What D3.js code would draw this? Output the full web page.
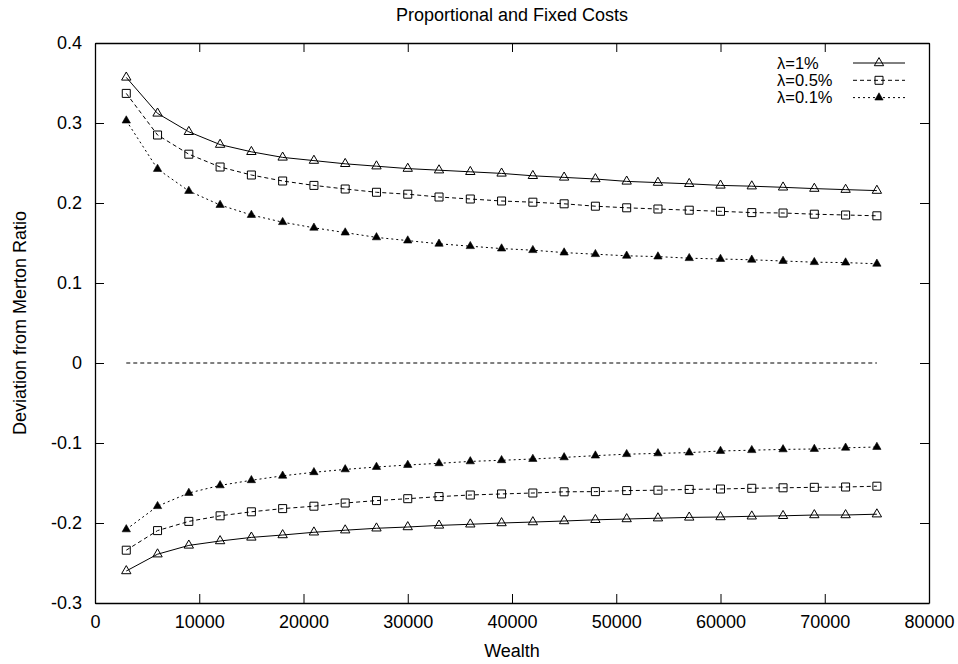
<!DOCTYPE html>
<html>
<head>
<meta charset="utf-8">
<script src="https://cdn.jsdelivr.net/npm/d3@7"></script>
<style>
  body { margin: 0; background: #fff; }
  svg text { font-family: "Liberation Sans", Arial, sans-serif; fill: #000; }
</style>
</head>
<body>
<div id="chart"></div>
<script>
// wealth grid, 3000 .. 75000
var wealth = [3000, 6000, 9000, 12000, 15000, 18000, 21000, 24000, 27000, 30000,
    33000, 36000, 39000, 42000, 45000, 48000, 51000, 54000, 57000, 60000,
    63000, 66000, 69000, 72000, 75000];

// upper boundaries
var upper1 = [0.357, 0.312, 0.289, 0.273, 0.264, 0.257, 0.253, 0.249, 0.246, 0.243,
    0.241, 0.239, 0.237, 0.234, 0.232, 0.230, 0.227, 0.2255, 0.224, 0.222,
    0.221, 0.2196, 0.218, 0.2167, 0.2155];
var upper05 = [0.337, 0.285, 0.261, 0.245, 0.235, 0.2275, 0.222, 0.2175, 0.2134, 0.211,
    0.2075, 0.205, 0.2025, 0.201, 0.199, 0.196, 0.194, 0.1925, 0.191, 0.1896,
    0.188, 0.1875, 0.186, 0.185, 0.184];
var upper01 = [0.303, 0.2425, 0.215, 0.1975, 0.185, 0.176, 0.169, 0.163, 0.157, 0.153,
    0.149, 0.146, 0.143, 0.141, 0.138, 0.136, 0.134, 0.133, 0.131, 0.130,
    0.129, 0.1275, 0.126, 0.1255, 0.124];

// lower boundaries
var lower1 = [-0.260, -0.239, -0.228, -0.2225, -0.218, -0.215, -0.2116, -0.209, -0.2066, -0.205,
    -0.203, -0.2016, -0.200, -0.1988, -0.1975, -0.196, -0.195, -0.194, -0.193, -0.1925,
    -0.1916, -0.191, -0.190, -0.190, -0.189];
var lower05 = [-0.234, -0.2095, -0.198, -0.191, -0.186, -0.182, -0.179, -0.175, -0.172, -0.1696,
    -0.167, -0.165, -0.1637, -0.1625, -0.161, -0.1608, -0.1595, -0.159, -0.158, -0.1575,
    -0.1566, -0.156, -0.1554, -0.155, -0.154];
var lower01 = [-0.208, -0.179, -0.1625, -0.153, -0.1466, -0.141, -0.1366, -0.133, -0.130, -0.1275,
    -0.1254, -0.123, -0.1216, -0.120, -0.118, -0.1158, -0.114, -0.113, -0.112, -0.110,
    -0.109, -0.108, -0.1075, -0.106, -0.105];

var zeroLine = [0, 0];
var zeroX = [3000, 75000];

var xTicks = [0, 10000, 20000, 30000, 40000, 50000, 60000, 70000, 80000];
var yTicks = [-0.3, -0.2, -0.1, 0, 0.1, 0.2, 0.3, 0.4];

var legendLabels = ["\u03bb=1%", "\u03bb=0.5%", "\u03bb=0.1%"];

var width = 958, height = 664;
var margin = {top: 43, right: 29, bottom: 61, left: 95};
var fontSize = "18px";

var svg = d3.select("#chart").append("svg")
    .attr("width", width)
    .attr("height", height);

var x = d3.scaleLinear().domain([0, 80000]).range([margin.left, width - margin.right]);
var y = d3.scaleLinear().domain([-0.3, 0.4]).range([height - margin.bottom, margin.top]);

var tickLen = 9;

// plain hyphen for negatives, like the original
function yFmt(d) {
    return d === 0 ? "0" : d.toFixed(1);
}

// axes, ticks pointing inward, mirrored on top and right
svg.append("g")
    .attr("transform", "translate(0," + y(-0.3) + ")")
    .call(d3.axisBottom(x).tickValues(xTicks).tickFormat(d3.format("d")).tickSizeInner(-tickLen).tickSizeOuter(0).tickPadding(12))
    .call(function(g) { g.selectAll("text").style("font-size", fontSize); });

svg.append("g")
    .attr("transform", "translate(0," + y(0.4) + ")")
    .call(d3.axisTop(x).tickValues(xTicks).tickFormat("").tickSizeInner(-tickLen).tickSizeOuter(0));

svg.append("g")
    .attr("transform", "translate(" + x(0) + ",0)")
    .call(d3.axisLeft(y).tickValues(yTicks).tickFormat(yFmt)
        .tickSizeInner(-tickLen).tickSizeOuter(0).tickPadding(13))
    .call(function(g) { g.selectAll("text").style("font-size", fontSize); });

svg.append("g")
    .attr("transform", "translate(" + x(80000) + ",0)")
    .call(d3.axisRight(y).tickValues(yTicks).tickFormat("").tickSizeInner(-tickLen).tickSizeOuter(0));

svg.selectAll(".domain").attr("stroke", "#000").attr("stroke-width", 1.3);
svg.selectAll(".tick line").attr("stroke", "#000").attr("stroke-width", 1);

// titles
svg.append("text")
    .attr("x", (x(0) + x(80000)) / 2)
    .attr("y", 20.5)
    .attr("text-anchor", "middle")
    .style("font-size", fontSize)
    .text("Proportional and Fixed Costs");

svg.append("text")
    .attr("x", (x(0) + x(80000)) / 2)
    .attr("y", 656.5)
    .attr("text-anchor", "middle")
    .style("font-size", fontSize)
    .text("Wealth");

svg.append("text")
    .attr("transform", "translate(26," + ((y(0.4) + y(-0.3)) / 2) + ") rotate(-90)")
    .attr("text-anchor", "middle")
    .style("font-size", fontSize)
    .text("Deviation from Merton Ratio");

var line = d3.line()
    .x(function(d) { return x(d[0]); })
    .y(function(d) { return y(d[1]); });

var series = [
    {label: legendLabels[0], dash: null, marker: "openTri", data: [upper1, lower1]},
    {label: legendLabels[1], dash: "4,3", marker: "square", data: [upper05, lower05]},
    {label: legendLabels[2], dash: "2,3", marker: "fillTri", data: [upper01, lower01]}
];

function drawMarker(g, kind, cx, cy) {
    if (kind === "openTri") {
        g.append("path")
            .attr("d", d3.symbol().type(d3.symbolTriangle).size(38)())
            .attr("transform", "translate(" + cx + "," + cy + ")")
            .attr("fill", "none").attr("stroke", "#000").attr("stroke-width", 1);
    } else if (kind === "square") {
        g.append("path")
            .attr("d", d3.symbol().type(d3.symbolSquare).size(64)())
            .attr("transform", "translate(" + cx + "," + cy + ")")
            .attr("fill", "none").attr("stroke", "#000").attr("stroke-width", 1);
    } else {
        g.append("path")
            .attr("d", d3.symbol().type(d3.symbolTriangle).size(30)())
            .attr("transform", "translate(" + cx + "," + cy + ")")
            .attr("fill", "#000").attr("stroke", "#000").attr("stroke-width", 0.6);
    }
}

// zero reference line
svg.append("path")
    .datum(d3.zip(zeroX, zeroLine))
    .attr("d", line)
    .attr("fill", "none")
    .attr("stroke", "#000")
    .attr("stroke-width", 1)
    .attr("stroke-dasharray", "4,3");

series.forEach(function(s) {
    var g = svg.append("g");
    s.data.forEach(function(vals) {
        var pts = d3.zip(wealth, vals);
        g.append("path")
            .datum(pts)
            .attr("d", line)
            .attr("fill", "none")
            .attr("stroke", "#000")
            .attr("stroke-width", 1)
            .attr("stroke-dasharray", s.dash);
        pts.forEach(function(p) {
            drawMarker(g, s.marker, x(p[0]), y(p[1]));
        });
    });
});

// legend
var legend = svg.append("g");
series.forEach(function(s, i) {
    var ly = 63 + i * 17.3;
    legend.append("text")
        .attr("x", 777)
        .attr("y", ly + 5.5)
        .style("font-size", "16.5px")
        .text(s.label);
    legend.append("line")
        .attr("x1", 853).attr("x2", 905)
        .attr("y1", ly).attr("y2", ly)
        .attr("stroke", "#000")
        .attr("stroke-width", 1)
        .attr("stroke-dasharray", s.dash);
    drawMarker(legend, s.marker, 879, ly);
});
</script>
</body>
</html>
